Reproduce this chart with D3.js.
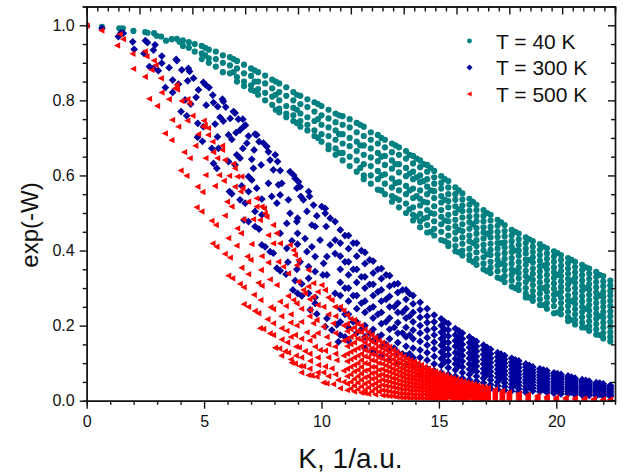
<!DOCTYPE html>
<html>
<head>
<meta charset="utf-8">
<script src="https://cdn.jsdelivr.net/npm/d3@7"></script>
<style>
  html, body { margin: 0; padding: 0; background: #fff; }
  text { font-family: "Liberation Sans", Arial, sans-serif; fill: #111; }
  .axis path, .axis line { stroke: #111; stroke-width: 1.4; }
  .axis text { font-size: 16px; }
</style>
</head>
<body>
<svg id="chart"></svg>
<script>
const xMajor = [0, 5, 10, 15, 20]
const xMinor = [1, 2, 3, 4, 6, 7, 8, 9, 11, 12, 13, 14, 16, 17, 18, 19, 21, 22]
const topMajor = [0, 2.25, 4.5, 6.75, 9, 11.25, 13.5, 15.75, 18, 20.25, 22.5]
const topMinor = [.45, .9, 1.35, 1.8, 2.7, 3.15, 3.6, 4.05, 4.95, 5.4, 5.85, 6.3, 7.2, 7.65, 8.1, 8.55, 9.45, 9.9, 10.35, 10.8, 11.7, 12.15, 12.6, 13.05, 13.95, 14.4, 14.85, 15.3, 16.2, 16.65, 17.1, 17.55, 18.45, 18.9, 19.35, 19.8, 20.7, 21.15, 21.6, 22.05]
const yMajor = [0, .2, .4, .6, .8, 1]
const yMinor = [.05, .1, .15, .25, .3, .35, .45, .5, .55, .65, .7, .75, .85, .9, .95, 1.05]

const seriesNames = ['T = 40 K', 'T = 300 K', 'T = 500 K']

// each row: K, then the exp(-W) values read at that K
const teal40 = [
  [0,[1]],[.65,[.996]],[1.39,[.992]],[1.54,[.992]],[1.99,[.985]],[2.49,[.982]],[2.59,[.98]],[2.87,[.979]],[2.98,[.972]],[3.17,[.97]],
  [3.38,[.959]],[3.62,[.963]],[3.84,[.964]],[3.95,[.956]],[4.1,[.96,.945]],[4.35,[.955,.94]],[4.6,[.95,.93]],[4.9,[.945,.925,.91]],
  [5.2,[.935,.912,.9]],[5.5,[.93,.91,.89]],[5.8,[.92,.9,.875]],[6.1,[.915,.893,.872]],[6.4,[.905,.885,.862,.85]],[6.7,[.895,.872,.85,.838]],
  [7,[.885,.865,.84,.828]],[7.3,[.875,.85,.83,.815]],[7.6,[.866,.845,.82,.8]],[7.9,[.855,.832,.81,.788]],[8.2,[.845,.822,.8,.778,.768]],
  [8.5,[.835,.812,.785,.765,.755]],[8.8,[.822,.8,.78,.76,.745]],[9.1,[.812,.79,.765,.745,.73]],[9.4,[.803,.782,.755,.735,.72]],
  [9.7,[.795,.77,.745,.72,.705]],[10,[.785,.76,.735,.71,.69]],[10.3,[.775,.752,.728,.705,.68,.67]],[10.6,[.765,.742,.72,.695,.672,.655]],
  [10.9,[.758,.735,.71,.685,.66,.64]],[11.2,[.75,.728,.7,.678,.65,.625]],[11.5,[.74,.715,.69,.665,.64,.61]],[11.8,[.73,.705,.68,.655,.63,.6,.59]],
  [12.1,[.715,.695,.672,.648,.625,.6,.578]],[12.4,[.708,.685,.66,.638,.612,.59,.562]],[12.7,[.695,.675,.652,.628,.603,.578,.55]],
  [13,[.685,.662,.64,.618,.592,.568,.545,.53]],[13.3,[.675,.655,.63,.608,.582,.56,.535,.515]],[13.6,[.665,.645,.62,.598,.572,.55,.525,.5]],
  [13.9,[.652,.632,.61,.59,.565,.54,.515,.495,.48]],[14.2,[.64,.622,.6,.582,.56,.538,.52,.498,.478,.462]],
  [14.5,[.628,.61,.59,.57,.55,.528,.508,.488,.468,.448]],[14.8,[.612,.595,.578,.558,.54,.518,.498,.478,.458,.44]],
  [15.1,[.598,.58,.565,.545,.528,.508,.49,.47,.45,.428]],[15.4,[.585,.568,.55,.532,.515,.495,.478,.46,.44,.42,.412]],
  [15.7,[.568,.55,.535,.518,.5,.482,.465,.448,.43,.412,.398]],[16,[.552,.536,.52,.505,.488,.47,.452,.435,.418,.4,.387]],
  [16.3,[.538,.522,.506,.49,.475,.458,.44,.425,.405,.388,.375]],[16.6,[.522,.508,.492,.478,.46,.445,.428,.412,.395,.378,.362]],
  [16.9,[.508,.492,.478,.462,.448,.432,.415,.4,.382,.365,.35]],[17.2,[.495,.48,.463,.45,.435,.418,.402,.388,.37,.355,.34]],
  [17.5,[.482,.466,.45,.436,.42,.405,.39,.375,.36,.345,.328]],[17.8,[.468,.452,.438,.422,.408,.393,.378,.362,.348,.332,.316]],
  [18.1,[.455,.44,.425,.41,.396,.38,.365,.35,.335,.32,.304]],[18.4,[.445,.43,.415,.4,.386,.37,.355,.34,.326,.31,.295]],
  [18.7,[.435,.42,.405,.392,.376,.362,.346,.332,.316,.3,.285,.275]],[19,[.425,.41,.396,.382,.368,.352,.338,.322,.308,.292,.278,.266]],
  [19.3,[.417,.402,.388,.373,.358,.344,.33,.315,.3,.285,.27,.255]],[19.6,[.406,.392,.378,.364,.35,.335,.32,.305,.29,.275,.26,.245]],
  [19.9,[.398,.384,.37,.355,.342,.327,.312,.298,.282,.268,.252,.233]],[20.2,[.388,.375,.36,.346,.332,.318,.303,.29,.274,.26,.245,.23]],
  [20.5,[.38,.366,.352,.338,.324,.31,.296,.28,.266,.252,.237,.222,.212]],[20.8,[.37,.356,.342,.328,.314,.3,.286,.272,.258,.244,.23,.215,.203]],
  [21.1,[.362,.348,.334,.32,.306,.292,.278,.264,.25,.236,.222,.208,.195]],[21.4,[.352,.338,.324,.31,.296,.282,.268,.255,.24,.226,.212,.198,.186]],
  [21.7,[.343,.33,.316,.302,.288,.274,.26,.246,.232,.218,.204,.19,.176]],[22,[.332,.318,.305,.29,.277,.263,.25,.236,.222,.208,.195,.18,.166]],
  [22.3,[.32,.307,.293,.28,.266,.252,.238,.225,.21,.197,.183,.17,.158]],
  [5.05,[.94,.92]],[6.25,[.91,.875]],[7.15,[.88,.85,.825]],[8.05,[.85,.815,.775]],[8.95,[.815,.775,.74]],[9.85,[.79,.75,.7]],[10.75,[.76,.71,.66]],
  [11.65,[.735,.68,.62]],[12.55,[.7,.65,.6,.56]],[13.15,[.68,.63,.58,.54]],[13.75,[.655,.605,.56,.51]],[14.05,[.645,.595,.545,.49]],[14.35,[.63,.585,.53,.485]],
  [14.65,[.62,.56,.5,.45]],[15.25,[.59,.535,.48,.425]],[15.85,[.56,.51,.455,.395]],[16.45,[.53,.47,.42,.37]],[17.05,[.5,.445,.39,.345]],[17.65,[.475,.42,.365,.325]],
  [18.25,[.45,.4,.345,.3]],[18.85,[.43,.375,.325,.275]],[19.45,[.41,.36,.3,.255]],[20.05,[.393,.335,.285,.235]],[20.65,[.375,.32,.265,.215]],[21.25,[.355,.3,.245,.195]],
  [21.85,[.335,.28,.225,.175]]
]

const blue300 = [
  [0,[.998]],[.65,[.992]],[1.35,[.97]],[1.45,[.979]],[1.56,[.979]],[1.96,[.956]],[2.02,[.936]],[2.5,[.959]],[2.59,[.954]],[2.44,[.925]],
  [2.91,[.948]],[2.84,[.934,.885]],[3.2,[.918,.899]],[2.67,[.89]],[3.05,[.879]],[3.84,[.906]],[3.81,[.909]],[3.51,[.887]],[4.05,[.881]],
  [4.33,[.885]],[4.38,[.877]],[4.55,[.859]],[3.66,[.854,.821]],[3.91,[.843]],[4.3,[.852]],[3.35,[.834]],[4.76,[.828]],[4.97,[.848,.73]],
  [5.07,[.841]],[5.21,[.834]],[5.37,[.814]],[4.66,[.808]],[4.19,[.801]],[4.43,[.79]],[5.09,[.787]],[5.4,[.794,.632]],[5.78,[.803]],
  [5.82,[.797,.745]],[5.58,[.783]],[5.92,[.782]],[6.25,[.77]],[6.32,[.766,.628]],[4.02,[.77]],[4.26,[.759]],[5.68,[.755]],[6.11,[.752]],
  [6.46,[.75]],[6.65,[.75,.672]],[6.76,[.734]],[4.73,[.739]],[5.47,[.737]],[6.68,[.73]],[6.53,[.721,.646,.535]],[6.36,[.714]],[6.04,[.708,.637]],
  [6.18,[.696,.551]],[6.89,[.705,.597,.557]],[7.17,[.71]],[7.24,[.708,.566]],[7.34,[.69]],[7.53,[.686]],[7.67,[.677]],[4.72,[.702]],[4.93,[.691]],
  [5.57,[.703]],[5.33,[.672]],[5.61,[.672]],[6.82,[.686]],[7.13,[.668]],[7.74,[.663,.579]],[8.03,[.655]],[6.39,[.655]],[5.54,[.619]],
  [7.03,[.643,.588]],[7.43,[.628]],[7.81,[.641]],[8.13,[.637]],[7.95,[.615]],[8.24,[.613,.548]],[7.1,[.619]],[6.08,[.557]],[6.6,[.572]],
  [8.17,[.575]],[8.31,[.579]],[8.66,[.61]],[8.81,[.601]],[8.88,[.592]],[9.02,[.583]],[9.09,[.57]],[8.95,[.566]],[7.88,[.544]],[8.59,[.535]],
  [9.45,[.557]],[9.49,[.544]],[9.12,[.544]],[9.23,[.535]],[6.75,[.526]],[7.46,[.537]],[8.1,[.526]],[9.66,[.521]],[10.01,[.517]],[10.16,[.512]],
  [6.7,[.481]],[6.89,[.477]],[7.17,[.504,.464]],[7.46,[.495,.415]],[7.34,[.457]],[7.6,[.41]],[7.81,[.397]],[7.95,[.393]],[8.1,[.353]],[8.24,[.446,.346]],
  [8.49,[.337]],[8.57,[.369]],[8.52,[.472,.406]],[8.66,[.499]],[8.98,[.486,.446,.417,.286]],[8.95,[.477,.35]],[8.74,[.426]],[9.3,[.432]],
  [9.59,[.468,.41]],[9.73,[.464,.384,.344,.275,.259]],[9.8,[.492,.231]],[9.38,[.504,.397]],[10.16,[.499,.197]],[10.37,[.486,.415]],
  [10.58,[.477,.428,.392,.286]],[10.2,[.464]],[9.94,[.428]],[9.09,[.37]],[9.45,[.357,.326,.286]],[10.09,[.366]],[10.23,[.384,.335,.219]],
  [10.06,[.335]],[9.16,[.311,.279]],[8.88,[.32]],[8.78,[.295]],[9.52,[.242]],[10.44,[.188]],[10.65,[.202]],[10.72,[.157]],
  [10.8,[.455,.42,.385,.35,.315,.28,.245,.21,.175]],[11.15,[.44,.405,.37,.335,.3,.265,.23,.195,.16]],[11.5,[.42,.385,.35,.315,.28,.245,.21,.18]],
  [11.85,[.395,.365,.33,.3,.265,.235,.2,.17,.14]],[12.2,[.372,.34,.31,.28,.25,.22,.19,.16,.13]],[12.55,[.352,.325,.295,.265,.235,.205,.175,.145,.12]],
  [12.9,[.333,.305,.278,.25,.22,.19,.165,.135,.11]],[13.25,[.312,.288,.26,.235,.208,.18,.155,.128,.1]],[13.6,[.295,.27,.245,.22,.195,.17,.145,.12,.095]],
  [13.9,[.28,.258,.235,.21,.188,.165,.14,.115,.09]],[14.2,[.262,.242,.222,.2,.18,.158,.135,.115,.092,.07]],[14.5,[.245,.225,.208,.188,.168,.148,.128,.108,.085,.065]],
  [14.8,[.228,.21,.192,.175,.156,.138,.118,.098,.08,.06]],[15.1,[.218,.2,.182,.165,.148,.13,.112,.094,.075,.058]],[15.4,[.205,.188,.172,.155,.138,.122,.105,.088,.07,.055]],
  [15.7,[.192,.175,.16,.145,.128,.112,.098,.082,.065,.05]],[16,[.18,.165,.15,.135,.12,.105,.09,.075,.06,.045]],[16.3,[.17,.155,.142,.127,.113,.098,.084,.07,.056,.042]],
  [16.6,[.158,.145,.132,.118,.105,.092,.078,.065,.052,.04]],[16.9,[.148,.136,.123,.11,.098,.085,.073,.06,.048,.035]],[17.2,[.137,.125,.113,.102,.09,.078,.066,.055,.043,.032]],
  [17.5,[.128,.117,.106,.095,.084,.073,.062,.05,.04,.03]],[17.8,[.12,.11,.1,.09,.079,.069,.058,.048,.038,.028]],[18.1,[.113,.103,.094,.084,.074,.064,.054,.044,.035,.026]],
  [18.4,[.106,.097,.088,.078,.069,.06,.05,.041,.032,.024]],[18.7,[.098,.09,.081,.072,.064,.055,.047,.038,.03,.022]],[19,[.09,.082,.074,.066,.058,.05,.042,.034,.026]],
  [19.3,[.085,.077,.069,.062,.054,.047,.039,.032,.024]],[19.6,[.08,.072,.065,.058,.05,.043,.036,.029,.022]],[19.9,[.074,.067,.06,.053,.047,.04,.033,.026,.02]],
  [20.2,[.07,.063,.057,.05,.044,.037,.031,.025,.018]],[20.5,[.066,.06,.054,.048,.042,.036,.03,.024,.018]],[20.8,[.06,.055,.05,.044,.038,.033,.027,.022,.016]],
  [21.1,[.056,.051,.046,.04,.035,.03,.025,.02,.015]],[21.4,[.052,.047,.042,.037,.032,.027,.023,.018,.014]],[21.7,[.048,.044,.039,.034,.03,.025,.021,.017,.013]],
  [22,[.045,.041,.036,.032,.028,.024,.02,.016,.012]],[22.3,[.041,.037,.033,.029,.025,.021,.018,.014,.011]],
  [11,[.44,.37,.3,.23,.17]],[11.35,[.42,.35,.28,.21]],[11.7,[.4,.33,.26,.19]],[12.05,[.375,.31,.245,.18]],[12.4,[.35,.29,.23,.17]],[12.75,[.335,.27,.21,.15]],
  [13.1,[.31,.25,.195,.14]],[13.45,[.295,.235,.18,.125]],[13.75,[.285,.225,.175,.125]],
  [15.25,[.21,.19,.173,.156,.139,.12,.103]],[15.85,[.186,.17,.155,.14,.124,.108,.093]],[16.45,[.163,.15,.137,.123,.11,.095,.081]],[17.05,[.142,.13,.118,.106,.094,.082,.07]],
  [17.65,[.124,.113,.103,.092,.081,.071,.06]],[18.25,[.109,.1,.09,.08,.071,.062,.052,.043]],[18.85,[.094,.086,.078,.069,.061,.053,.044,.036]],[19.45,[.082,.075,.067,.06,.052,.045,.037,.03]],
  [20.05,[.072,.065,.058,.052,.045,.039,.032,.026]],[20.65,[.063,.058,.052,.046,.04,.034,.029,.023]],[21.25,[.054,.049,.044,.038,.033,.028,.024,.019]],[21.85,[.047,.042,.038,.033,.029,.025,.021,.017]]
]

const red500 = [
  [0,[.999]],[.64,[.986]],[1.42,[.976]],[1.56,[.963]],[1.31,[.946]],[1.96,[.924]],[2.49,[.93,.863]],[2.56,[.917]],[1.99,[.884]],[2.87,[.906]],[2.95,[.894]],
  [2.77,[.881]],[3.17,[.859]],[3.2,[.821]],[2.67,[.804]],[3.01,[.785]],[3.51,[.803]],[3.84,[.841]],[3.76,[.832]],[3.86,[.829]],[4.05,[.798]],[4.3,[.803,.746]],
  [4.38,[.792]],[4.52,[.759]],[3.65,[.748]],[3.91,[.73]],[3.34,[.712]],[3.62,[.694]],[5,[.746]],[5.04,[.734]],[5.18,[.726,.708]],[4.97,[.73]],[4.76,[.71]],
  [4.16,[.662]],[4.4,[.646]],[4.64,[.679]],[5.07,[.646,.601]],[5.37,[.69,.419]],[5.4,[.662]],[5.57,[.646]],[5.78,[.679,.668]],[5.89,[.641,.493,.391]],[6.25,[.631]],
  [6.32,[.619,.57]],[4.01,[.613]],[4.26,[.599]],[5.65,[.601]],[5.85,[.586]],[6.08,[.599]],[6.42,[.597,.459]],[6.6,[.597,.354]],[4.73,[.57]],[4.94,[.556]],
  [5.47,[.572]],[6.65,[.566]],[6.56,[.557]],[5.99,[.53]],[6.18,[.517]],[6.89,[.53,.337,.25]],[7.24,[.539,.517]],[7.46,[.517,.385,.306]],[4.69,[.515]],[7.56,[.512]],
  [4.9,[.504]],[5.33,[.479]],[5.51,[.468]],[6.58,[.446]],[6.68,[.483]],[7.1,[.483]],[6.04,[.433,.333]],[6.39,[.413]],[5.54,[.41]],[7.03,[.417]],[6.11,[.381]],
  [6.85,[.384]],[6.99,[.375]],[7.74,[.368,.441]],[7.95,[.419,.468,.244,.206,.175]],[8.24,[.419,.264]],[6.21,[.326]],[6.53,[.311]],[6.7,[.302,.257]],[7.32,[.314,.233]],
  [7.43,[.348]],[7.81,[.323,.179]],[8.1,[.308,.446]],[7.13,[.282]],[7.41,[.268]],[7.17,[.239]],[7.84,[.249]],[8.49,[.252]],[8.59,[.279,.339,.128]],[8.81,[.268,.401]],
  [8.95,[.259,.2,.361]],[7.39,[.193,.481]],[7.53,[.191]],[7.71,[.217]],[8.31,[.193,.163]],[8.52,[.186]],[8.69,[.208]],[8.88,[.175,.099,.388]],[9.38,[.182]],
  [9.66,[.172,.313,.277,.206]],[8.55,[.155]],[8.03,[.141]],[8.21,[.139]],[8.45,[.131]],[8.92,[.144,.12]],[9.05,[.142]],[9.3,[.132,.286]],[9.73,[.144]],[9.94,[.135]],
  [10.16,[.133,.091,.295]],[8.74,[.101]],[9.09,[.092]],[9.23,[.092,.295]],[9.52,[.106,.242]],[9.87,[.095]],[9.45,[.068,.348,.304]],[9.59,[.067]],[9.8,[.064,.215]],
  [10.09,[.075,.048,.25,.197]],[10.44,[.086,.268]],[10.23,[.046,.17]],[10.51,[.044,.206]],[10.72,[.055]],[10.8,[.033,.25]],[8.17,[.37]],[8.38,[.357]],[9.02,[.317,.375]],
  [8.66,[.415]],[10.01,[.308]],[10.3,[.275]],[10.58,[.25,.144]],[10.65,[.108]],[7.6,[.499]],[7.67,[.49]],
  [8.3,[.225,.12]],[8.7,[.23,.17,.11]],[9.15,[.245,.21,.165,.115,.075]],[9.5,[.27,.225,.16,.125,.085]],[9.85,[.29,.255,.18,.115,.075]],[10.3,[.23,.15,.115,.065]],
  [10.6,[.225,.18,.125,.07]],[10.95,[.24,.2,.16,.12,.08,.05]],
  [11.1,[.228,.205,.185,.165,.145,.125,.105,.085,.065,.045,.028]],[11.4,[.215,.195,.175,.155,.135,.115,.095,.078,.058,.04,.024]],
  [11.7,[.2,.182,.162,.145,.125,.108,.09,.072,.055,.038,.021]],[12,[.182,.165,.148,.132,.115,.098,.082,.065,.05,.035,.018]],
  [12.3,[.168,.152,.137,.122,.106,.09,.075,.06,.046,.032,.016]],[12.6,[.155,.14,.127,.112,.098,.084,.07,.056,.042,.028,.014]],
  [12.9,[.143,.13,.117,.104,.09,.077,.064,.051,.038,.025,.012]],[13.2,[.13,.118,.106,.094,.082,.07,.058,.046,.034,.022,.01]],
  [13.5,[.118,.107,.096,.085,.074,.063,.052,.041,.03,.019,.008]],[13.8,[.108,.098,.088,.078,.068,.058,.048,.038,.028,.018,.007]],
  [14.1,[.1,.09,.081,.072,.063,.054,.045,.036,.027,.017,.007]],[14.4,[.09,.082,.074,.066,.058,.05,.042,.034,.026,.017,.007]],
  [14.7,[.082,.075,.068,.06,.053,.046,.038,.03,.022,.014,.006]],[15,[.074,.067,.06,.054,.047,.04,.033,.026,.02,.013,.006]],
  [15.3,[.067,.061,.055,.049,.043,.037,.03,.024,.018,.012,.005]],[15.6,[.06,.054,.048,.042,.036,.03,.024,.018,.012,.005]],
  [15.9,[.054,.049,.043,.038,.032,.027,.021,.016,.01,.005]],[16.2,[.048,.043,.038,.033,.028,.023,.018,.013,.008,.004]],
  [16.5,[.044,.039,.034,.03,.025,.021,.016,.012,.007,.003]],[16.8,[.038,.034,.03,.026,.022,.018,.014,.01,.006,.003]],
  [17.1,[.034,.03,.026,.022,.018,.014,.01,.006,.003]],[17.4,[.03,.026,.023,.019,.015,.012,.008,.005,.002]],[17.7,[.026,.023,.02,.017,.013,.01,.007,.004,.002]],
  [18,[.022,.019,.016,.013,.01,.007,.004,.002]],[18.4,[.019,.016,.013,.01,.007,.004,.002]],[18.8,[.016,.013,.01,.007,.004,.002]],[19.2,[.013,.01,.007,.004,.002]],
  [19.6,[.011,.008,.005,.002]],[20,[.009,.006,.003,.001]],[20.4,[.008,.005,.002]],[20.8,[.007,.004,.002]],[21.2,[.006,.003,.001]],[21.6,[.005,.003,.001]],
  [22,[.004,.002,.001]],[22.3,[.003,.002]],
  [11.25,[.218,.19,.17,.15,.13,.11,.09,.07,.05,.032]],[11.55,[.205,.185,.165,.14,.12,.1,.082,.065,.048,.03]],[11.85,[.19,.17,.155,.135,.118,.1,.08,.062,.045,.028,.02]],
  [12.15,[.175,.158,.14,.124,.108,.09,.073,.058,.042,.025]],[12.45,[.16,.145,.13,.115,.1,.082,.067,.052,.038,.024]],[12.75,[.148,.135,.122,.108,.094,.08,.066,.053,.04,.027,.014]],
  [13.05,[.135,.123,.11,.098,.085,.073,.06,.048,.036,.023,.012]],[13.35,[.124,.112,.1,.088,.077,.066,.054,.043,.032,.02,.009]],[13.65,[.112,.102,.091,.08,.07,.06,.05,.04,.03,.018,.008]],
  [13.95,[.104,.094,.085,.075,.065,.056,.046,.037,.027,.016,.007]],[14.25,[.095,.086,.078,.07,.06,.052,.043,.035,.026,.016,.007]],[14.55,[.086,.078,.07,.062,.054,.047,.04,.032,.024,.015,.006]],
  [14.85,[.078,.07,.064,.057,.05,.043,.035,.028,.021,.013,.006]],[15.15,[.07,.064,.058,.051,.045,.038,.031,.025,.019,.012,.005]],[15.45,[.063,.057,.051,.046,.04,.033,.027,.021,.015,.008]],
  [15.75,[.057,.051,.046,.04,.034,.028,.022,.017,.011,.005]],[16.05,[.051,.046,.04,.035,.03,.025,.02,.015,.009,.004]],[16.35,[.046,.041,.036,.031,.026,.022,.017,.012,.007]],
  [16.65,[.041,.037,.032,.028,.023,.019,.015,.011,.006]],[16.95,[.036,.032,.028,.024,.02,.016,.012,.008,.004]]
]

const width = 635, height = 473
const plotLeft = 86.7, plotRight = 615, plotTop = 6.5, plotBottom = 400.7

const svg = d3.select('#chart').attr('width', width).attr('height', height)
    .style('display', 'block')

const xScale = d3.scaleLinear().domain([0, 22.5]).range([plotLeft, plotRight])
const yScale = d3.scaleLinear().domain([0, 1.05]).range([plotBottom, plotTop])

// origin style markers
const circleMark = d3.symbolCircle
const diamondMark = {draw(ctx, size) {
    let r = Math.sqrt(size / 2)
    ctx.moveTo(0, -r); ctx.lineTo(r, 0); ctx.lineTo(0, r); ctx.lineTo(-r, 0); ctx.closePath()
}}
const triangleMark = {draw(ctx, size) {
    let r = Math.sqrt(size)
    ctx.moveTo(-r * .62, 0); ctx.lineTo(r * .5, -r * .58); ctx.lineTo(r * .5, r * .58); ctx.closePath()
}}

const series = [
    {rows: teal40, color: '#008080', mark: circleMark, size: 30},
    {rows: blue300, color: '#00009c', mark: diamondMark, size: 30},
    {rows: red500, color: '#ff0000', mark: triangleMark, size: 30},
]

svg.append('defs').append('clipPath').attr('id', 'plot')
    .append('rect').attr('x', plotLeft).attr('y', plotTop)
    .attr('width', plotRight - plotLeft).attr('height', plotBottom - plotTop)

const marks = svg.append('g').attr('clip-path', 'url(#plot)')

series.forEach(s => {
    let pts = s.rows.flatMap(r => r[1].map(v => [r[0], v]))
    marks.append('g').selectAll('path')
        .data(pts)
        .join('path')
            .attr('d', d3.symbol().type(s.mark).size(s.size))
            .attr('fill', s.color)
            .attr('transform', d => `translate(${xScale(d[0])},${yScale(d[1])})`)
})

function drawAxis(axis, tx, ty) {
    svg.append('g').attr('class', 'axis')
        .attr('transform', `translate(${tx},${ty})`)
        .call(axis)
}

drawAxis(d3.axisBottom(xScale).tickValues(xMinor).tickSize(4).tickFormat(''), 0, plotBottom)
drawAxis(d3.axisBottom(xScale).tickValues(xMajor).tickSize(8).tickSizeOuter(0).tickPadding(7).tickFormat(d3.format('d')), 0, plotBottom)
drawAxis(d3.axisTop(xScale).tickValues(topMinor).tickSize(-5).tickFormat(''), 0, plotTop)
drawAxis(d3.axisTop(xScale).tickValues(topMajor).tickSize(-8).tickSizeOuter(0).tickFormat(''), 0, plotTop)
drawAxis(d3.axisLeft(yScale).tickValues(yMinor).tickSize(4).tickFormat(''), plotLeft, 0)
drawAxis(d3.axisLeft(yScale).tickValues(yMajor).tickSize(7).tickSizeOuter(0).tickPadding(5).tickFormat(d3.format('.1f')), plotLeft, 0)
drawAxis(d3.axisRight(yScale).tickValues(yMinor).tickSize(-4).tickFormat(''), plotRight, 0)
drawAxis(d3.axisRight(yScale).tickValues(yMajor).tickSize(-7).tickSizeOuter(0).tickFormat(''), plotRight, 0)

svg.append('text')
    .attr('x', 350.5).attr('y', 468)
    .attr('text-anchor', 'middle').attr('font-size', 28)
    .text('K, 1/a.u.')

svg.append('text')
    .attr('transform', 'translate(38,225) rotate(-90)')
    .attr('text-anchor', 'middle').attr('font-size', 24)
    .text('exp(-W)')

// legend
const legend = svg.append('g')
seriesNames.forEach((name, i) => {
    let s = series[i], ly = 41 + i * 26.5
    legend.append('path')
        .attr('d', d3.symbol().type(s.mark).size(18))
        .attr('fill', s.color)
        .attr('transform', `translate(469.5,${ly})`)
    legend.append('text')
        .attr('x', 496).attr('y', ly + 7.5)
        .attr('font-size', 21)
        .text(name)
})
</script>
</body>
</html>
